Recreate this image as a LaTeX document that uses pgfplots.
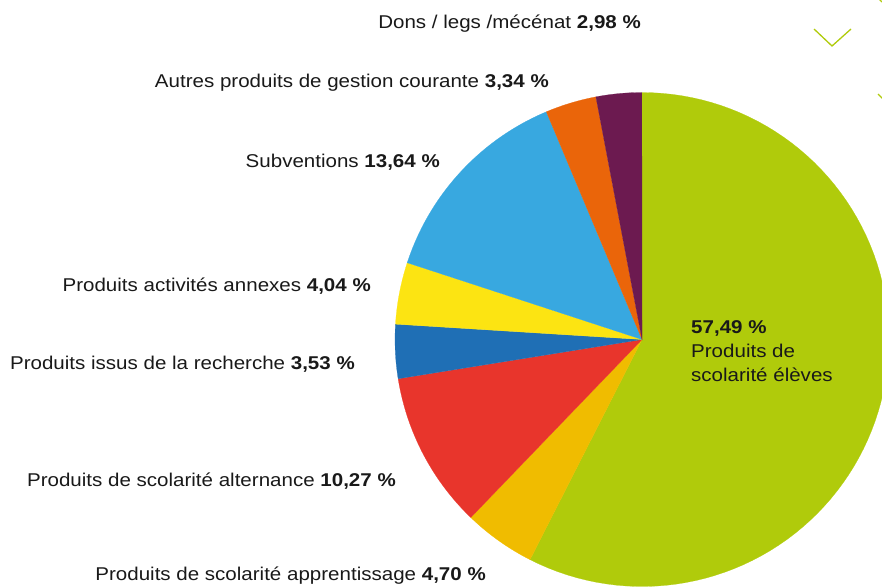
\documentclass[border=0pt]{standalone}
\usepackage{pgfplots}
\usepackage{pgfplotstable}
\pgfplotsset{compat=1.18}
\usepackage{fontspec}
\setmainfont[FakeStretch=1.11]{Liberation Sans}
\definecolor{cA}{RGB}{176,203,11}
\definecolor{cB}{RGB}{240,188,0}
\definecolor{cC}{RGB}{232,53,44}
\definecolor{cD}{RGB}{31,111,181}
\definecolor{cE}{RGB}{252,228,18}
\definecolor{cF}{RGB}{56,168,224}
\definecolor{cG}{RGB}{234,101,10}
\definecolor{cH}{RGB}{108,26,80}
\definecolor{txt}{RGB}{25,25,25}
\tikzset{lab/.style={font=\fontsize{18.5}{24}\selectfont, text=txt, inner sep=0pt}}
\pgfplotstableread{
val col
57.49 cA
4.70 cB
10.27 cC
3.53 cD
4.04 cE
13.64 cF
3.34 cG
2.98 cH
}\piedata
\begin{document}
\begin{tikzpicture}
\begin{axis}[
  at={(0,0)}, anchor=south west,
  scale only axis, width=882pt, height=586pt,
  xmin=0, xmax=882, ymin=0, ymax=586, y dir=reverse,
  hide axis, clip=true,
]
\def\cum{90}
\pgfplotsforeachungrouped \i in {0,...,7}{%
  \pgfplotstablegetelem{\i}{val}\of\piedata \let\v\pgfplotsretval
  \pgfplotstablegetelem{\i}{col}\of\piedata \let\c\pgfplotsretval
  \pgfmathsetmacro\endang{\cum-3.6*\v}%
  \edef\temp{\noexpand\addplot[fill=\c, draw=\c, line width=0.2pt, domain=\endang:\cum, samples=90]
     ({642+247*cos(x)},{339.5-247*sin(x)}) -- (642,339.5) -- cycle;}%
  \temp
  \global\let\cum\endang
}
% decorative chevrons
\addplot[color=cA, line width=1.3pt] coordinates {(814,29) (832,46) (851,29)};
\addplot[color=cA, line width=1.3pt] coordinates {(878,-2) (882,2)};
\addplot[color=cA, line width=1.3pt] coordinates {(878,94) (884,100)};
% labels
\node[lab, anchor=east] at (641,24) {Dons / legs /mécénat \textbf{2,98 \%}};
\node[lab, anchor=east] at (549,83) {Autres produits de gestion courante \textbf{3,34 \%}};
\node[lab, anchor=east] at (440,162) {Subventions \textbf{13,64 \%}};
\node[lab, anchor=east] at (371,286) {Produits activités annexes \textbf{4,04 \%}};
\node[lab, anchor=east] at (355,364) {Produits issus de la recherche \textbf{3,53 \%}};
\node[lab, anchor=east] at (396,481) {Produits de scolarité alternance \textbf{10,27 \%}};
\node[lab, anchor=east] at (486,576) {Produits de scolarité apprentissage \textbf{4,70 \%}};
\node[lab, anchor=west, align=left] at (691,351) {\textbf{57,49 \%}\\Produits de\\scolarité élèves};
\end{axis}
\pgfresetboundingbox
\path[use as bounding box] (0,0) rectangle (882pt,586pt);
\end{tikzpicture}
\end{document}
